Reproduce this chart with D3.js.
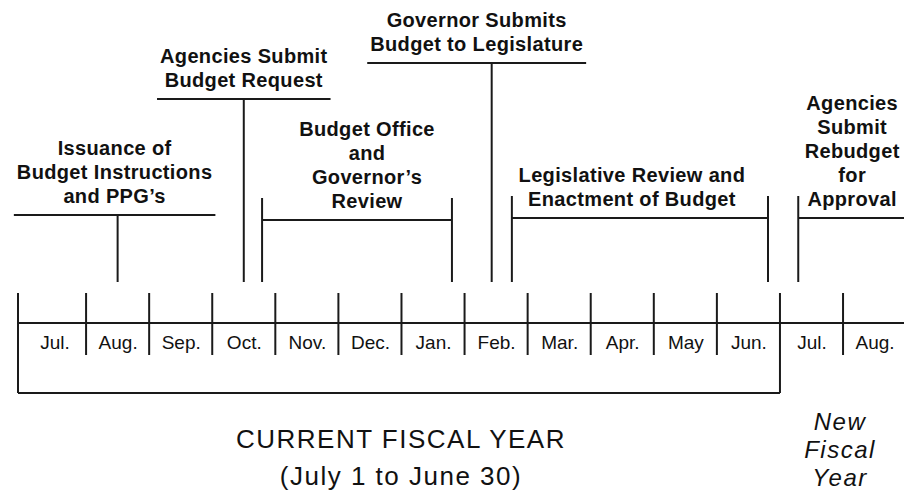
<!DOCTYPE html>
<html>
<head>
<meta charset="utf-8">
<script src="https://cdn.jsdelivr.net/npm/d3@7"></script>
<style>
  body { margin: 0; background: #fff; }
  text { font-family: "Liberation Sans", Arial, sans-serif; fill: #111; }
</style>
</head>
<body>
<script>
// months on the timeline, two extra months of the new fiscal year
var months = ["Jul.", "Aug.", "Sep.", "Oct.", "Nov.", "Dec.", "Jan.", "Feb.", "Mar.", "Apr.", "May", "Jun.", "Jul.", "Aug."];
var fiscalYearLength = 12;

// single point milestones (month position, 0 = start of July)
var milestoneLabels = [
    ["Issuance of", "Budget Instructions", "and PPG\u2019s"],
    ["Agencies Submit", "Budget Request"],
    ["Governor Submits", "Budget to Legislature"]
];
var milestoneAt = [1.5, 3.5, 7.43];

// phases spanning several months
var phaseLabels = [
    ["Budget Office", "and", "Governor\u2019s", "Review"],
    ["Legislative Review and", "Enactment of Budget"],
    ["Agencies", "Submit", "Rebudget", "for", "Approval"]
];
var phaseStart = [3.79, 7.75, 12.29];
var phaseEnd = [6.8, 11.81, 14];

var currentYearLabels = ["CURRENT FISCAL YEAR", "(July 1 to June 30)"];
var newYearLabels = ["New", "Fiscal", "Year"];

// layout
var width = 904, height = 500;
var axisY = 323, tickTop = 293, tickBottom = 355, bracketY = 393, stemBottom = 282;
var milestoneBarY = [215, 99, 63], milestoneDx = [-3, 0, -15];
var phaseBarY = [220, 218, 218], phaseDx = [10, -8, 0];
var lineGap = 24;

var svg = d3.select("body").append("svg")
    .attr("width", width)
    .attr("height", height);

var x = d3.scaleLinear()
    .domain([0, months.length])
    .range([23, 23 + months.length * 63.08]);

var left = x(0) - 5;
var ink = "#1a1a1a";

function line(g, x1, y1, x2, y2){
    g.append("line")
        .attr("x1", x1).attr("y1", y1)
        .attr("x2", x2).attr("y2", y2)
        .attr("stroke", ink)
        .attr("stroke-width", 2);
}

function stack(g, lines, cx, bottom, cls){
    var t = g.append("g").attr("class", cls);
    lines.forEach(function(s, i){
        t.append("text")
            .attr("x", cx)
            .attr("y", bottom - (lines.length - 1 - i) * lineGap)
            .attr("text-anchor", "middle")
            .attr("font-weight", "bold")
            .attr("font-size", 20)
            .attr("letter-spacing", 0.35)
            .text(s);
    });
    return t;
}

// timeline
var tl = svg.append("g");
line(tl, left - 1, axisY, width, axisY);
line(tl, left, tickTop, left, bracketY);
d3.range(1, months.length).forEach(function(m){
    line(tl, x(m), tickTop, x(m), m == fiscalYearLength ? bracketY : tickBottom);
});
line(tl, left, bracketY, x(fiscalYearLength), bracketY);

var monthAxis = d3.axisBottom(x)
    .tickValues(d3.range(months.length).map(function(m){ return m + 0.5; }))
    .tickFormat(function(d, i){ return months[i]; })
    .tickSize(0);

var ax = svg.append("g")
    .attr("transform", "translate(0," + axisY + ")")
    .call(monthAxis);
ax.select(".domain").remove();
ax.selectAll("text")
    .attr("y", 26)
    .attr("dy", 0)
    .attr("font-size", 19)
    .attr("fill", "#222")
    .style("font-family", "'Liberation Sans', Arial, sans-serif");

// milestones: label, bar under it and stem to the timeline
var ms = svg.append("g");
milestoneLabels.forEach(function(lines, i){
    var cx = x(milestoneAt[i]);
    var by = milestoneBarY[i];
    var t = stack(ms, lines, cx + milestoneDx[i], by - 12, "milestone");
    var w = d3.max(t.selectAll("text").nodes(), function(n){ return n.getComputedTextLength(); });
    line(ms, cx + milestoneDx[i] - w / 2 - 3, by, cx + milestoneDx[i] + w / 2 + 3, by);
    line(ms, cx, by, cx, stemBottom);
});

// phases: bracket over the months they cover
var ph = svg.append("g");
phaseLabels.forEach(function(lines, i){
    var x1 = x(phaseStart[i]), x2 = x(phaseEnd[i]);
    var by = phaseBarY[i];
    stack(ph, lines, (x1 + x2) / 2 + phaseDx[i], by - 12, "phase");
    line(ph, x1, by, x2, by);
    line(ph, x1, by - 22, x1, stemBottom);
    if (x2 < width) line(ph, x2, by - 22, x2, stemBottom);
});

// captions under the timeline
var cap = svg.append("g");
currentYearLabels.forEach(function(s, i){
    cap.append("text")
        .attr("x", (left + x(fiscalYearLength)) / 2 + 2)
        .attr("y", 448 + i * 37)
        .attr("text-anchor", "middle")
        .attr("font-size", 26)
        .attr("letter-spacing", 1.5)
        .text(s);
});
newYearLabels.forEach(function(s, i){
    cap.append("text")
        .attr("x", x(fiscalYearLength + 1) - 3)
        .attr("y", 430 + i * 28)
        .attr("text-anchor", "middle")
        .attr("font-size", 24)
        .attr("font-style", "italic")
        .attr("letter-spacing", 1.5)
        .text(s);
});
</script>
</body>
</html>
